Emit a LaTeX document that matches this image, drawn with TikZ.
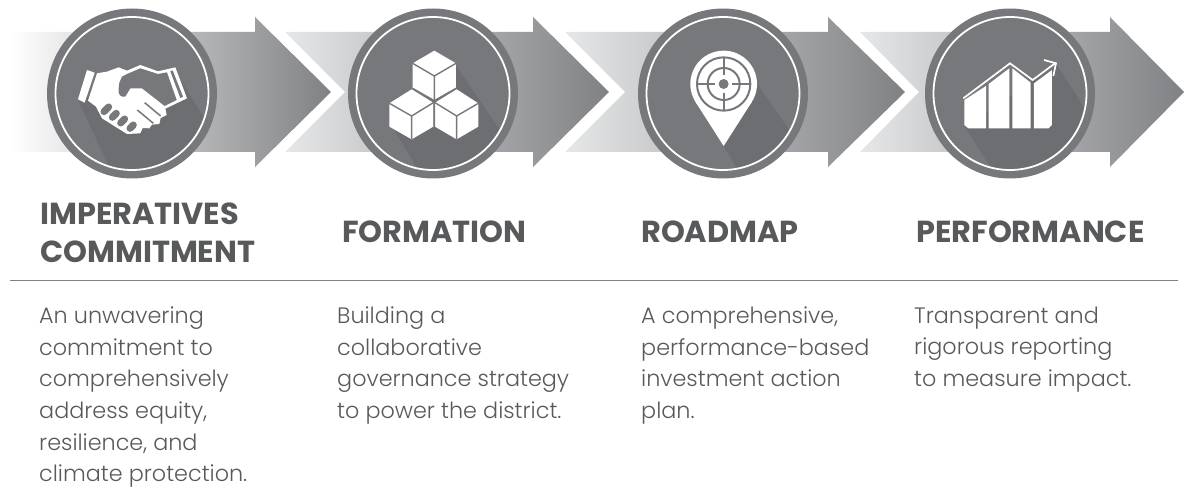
\documentclass[tikz,border=0pt]{standalone}
\usepackage{fontspec}
\setmainfont{Poppins}
\newfontfamily\headf{Poppins}[UprightFont=* Bold]
\newfontfamily\bodyf{Poppins}[UprightFont=* Light]
\definecolor{disc}{HTML}{77787B}
\definecolor{shadowc}{HTML}{6D6E71}
\definecolor{ink}{HTML}{58595B}
\definecolor{rulec}{HTML}{808285}
\definecolor{tipc}{HTML}{808184}
\definecolor{startc}{HTML}{E6E7E8}
\tikzset{
  px/.style={x=1pt,y=-1pt},
  head/.style={font=\headf\fontsize{30.4}{38}\selectfont,text=ink,anchor=base west,align=left,inner sep=0pt},
  body/.style={font=\bodyf\fontsize{22.3}{31.7}\selectfont,text=ink,anchor=north west,align=left,inner sep=0pt},
  icon/.style={fill=white,draw=none},
  cut/.style={draw=disc,line width=1.4pt,line join=round}
}
\newcommand{\bigarrow}[4]{% left, apex, head x, tip
  \path[left color=startc,right color=tipc]
    (#1,32) -- (#3,32) -- (#3,17) -- (#4,92) -- (#3,167) -- (#3,152) -- (#1,152) -- (#2,92) -- cycle;}
\newcommand{\disc}[2]{% cx, polygon
  \fill[disc] (#1,93.5) circle[radius=85];
  \begin{scope}
    \clip (#1,93.5) circle[radius=76.5];
    \fill[shadowc] #2;
  \end{scope}
  \draw[white,line width=1.8pt] (#1,93.5) circle[radius=76.5];}
\begin{document}
\begin{tikzpicture}[px]
\useasboundingbox (0,0) rectangle (1184,489);
\path[left color=white,right color=tipc]
  (10,32) -- (255,32) -- (255,17) -- (331,92) -- (255,167) -- (255,152) -- (10,152) -- cycle;
\bigarrow{285}{345}{533}{609}
\bigarrow{565}{625}{828}{905}
\bigarrow{860}{919}{1110}{1184}
\disc{132}{(78,100) -- (173,68) -- (223,148) -- (140,190) -- (120,190) -- cycle}
\disc{433}{(390,123) -- (457,67) -- (520,160) -- (430,190) -- cycle}
\disc{723}{(723,145) -- (758,85) -- (810,160) -- (750,190) -- cycle}
\disc{1010}{(965,127) -- (1057,65) -- (1105,140) -- (1005,190) -- cycle}
% handshake
\begin{scope}[shift={(72,60)},x=.3333pt,y=-.3333pt]
  \fill[icon] (45,30) -- (68,38) -- (38,128) -- (18,118) -- cycle;
  \fill[icon,line join=round] (75,40) -- (105,35) -- (140,22) -- (165,32) -- (205,15) -- (258,34) -- (310,22) -- (345,115) -- (280,146)
    -- (284,165) -- (266,174) -- (262,192) -- (240,194) -- (232,205) -- (212,204) -- (205,220) -- (165,222) -- (90,175) -- (72,140) -- (48,122) -- cycle;
  \fill[disc] (165,42) -- (205,25) -- (258,42) -- (285,37) -- (314,120) -- (278,138) -- (210,85) -- (175,85) -- (160,110) .. controls (145,112) and (138,105) .. (140,85) -- (142,68) -- (150,50) -- cycle;
  \fill[disc] (295,34) -- (302,31) -- (333,110) -- (325,114) -- cycle;
  \foreach \a/\b/\c/\d in {96/155/110/141, 121/172/133/160, 146/189/158/177, 174/205/184/195}
    \draw[disc,line width=7pt,line cap=round] (\a,\b) -- (\c,\d);
  \draw[disc,line width=1.5pt] (218,128) -- (266,168);
  \draw[disc,line width=1.5pt] (196,150) -- (244,190);
\end{scope}
% cubes
\begin{scope}[shift={(340,10)},x=.3333pt,y=-.3333pt]
  \fill[icon] (283,122) -- (348,160) -- (348,235) -- (283,272) -- (218,235) -- (218,160) -- cycle;
  \fill[icon] (215,238) -- (280,278) -- (280,350) -- (215,388) -- (148,350) -- (148,280) -- cycle;
  \fill[icon] (350,238) -- (415,280) -- (415,350) -- (350,388) -- (285,350) -- (285,278) -- cycle;
  \draw[cut] (218,160) -- (283,198) -- (348,160) (283,198) -- (283,272);
  \draw[cut] (148,280) -- (215,318) -- (280,278) (215,318) -- (215,388);
  \draw[cut] (285,278) -- (350,318) -- (415,280) (350,318) -- (350,388);
  \draw[cut] (218,235) -- (283,272) -- (348,235) (283,272) -- (283,350);
\end{scope}
% pin
\begin{scope}[shift={(630,10)},x=.3333pt,y=-.3333pt]
  \fill[icon] (281,222) circle[radius=100];
  \fill[icon] (281,408) -- (196.7,276) -- (365.3,276) -- cycle;
  \draw[cut,line width=2pt] (281,222) circle[radius=80] (281,222) circle[radius=48];
  \fill[disc] (281,222) circle[radius=15];
  \draw[cut,line width=2pt] (281,142) -- (281,196) (281,248) -- (281,302) (201,222) -- (255,222) (307,222) -- (361,222);
\end{scope}
% chart
\begin{scope}[shift={(900,10)},x=.3333pt,y=-.3333pt]
  \fill[icon] (193,270) -- (258,228) -- (258,355) -- (205,355) -- (193,345) -- cycle;
  \fill[icon] (266,222) -- (328,175) -- (328,355) -- (266,355) -- cycle;
  \fill[icon] (337,175) -- (392,218) -- (392,355) -- (337,355) -- cycle;
  \fill[icon] (402,220) -- (456,180) -- (456,345) -- (446,355) -- (402,355) -- cycle;
  \draw[white,line width=1.7pt,line join=miter] (190,265) -- (330,160) -- (398,210) -- (465,160);
  \draw[white,line width=1.7pt] (432,150) -- (468,160) -- (460,198);
\end{scope}
% labels
\node[head] (h1a) at (40,224.5) {IMPERATIVES};
\node[head] (h1b) at (40,262.5) {COMMITMENT};
\node[head] (h2) at (342,242.5) {FORMATION};
\node[head] (h3) at (641,242.5) {ROADMAP};
\node[head] (h4) at (916,242.5) {PERFORMANCE};
\coordinate (ruleL) at (10,281);
\coordinate (ruleR) at (1178,281);
\draw[rulec,line width=1pt] (ruleL) -- (ruleR);
\node[body] (b1) at (39,306.5) {An unwavering\\commitment to\\comprehensively\\address equity,\\resilience, and\\climate protection.};
\node[body] (b2) at (337,306.5) {Building a\\collaborative\\governance strategy\\to power the district.};
\node[body] (b3) at (641,306.5) {A comprehensive,\\performance-based\\investment action\\plan.};
\node[body] (b4) at (914,306.5) {Transparent and\\rigorous reporting\\to measure impact.};
\end{tikzpicture}
\end{document}
